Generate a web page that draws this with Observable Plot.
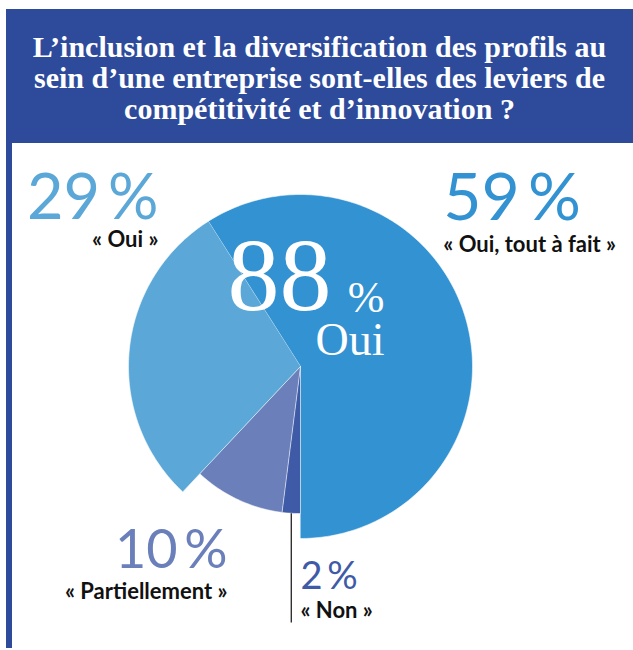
<!DOCTYPE html>
<html>
<head>
<meta charset="utf-8">
<script src="https://cdn.jsdelivr.net/npm/d3@7"></script>
<script src="https://cdn.jsdelivr.net/npm/@observablehq/plot@0.6"></script>
<style>
  body { margin: 0; background: #fff; }
  #wrap { position: relative; width: 633px; height: 650px; overflow: hidden; background: #fff; }
  #title { position: absolute; left: 6px; top: 9px; width: 627px; height: 134px; background: #2e4b9b; color: #fff;
    font-family: "Liberation Serif", serif; font-weight: bold; font-size: 30px; line-height: 31px;
    text-align: center; box-sizing: border-box; padding-top: 22px; margin: 0; }
  #border { position: absolute; left: 6px; top: 143px; width: 6px; height: 505px; background: #2e4b9b; }
  #chart { position: absolute; left: 0; top: 143px; }
</style>
</head>
<body>
<div id="wrap">
  <h1 id="title">L’inclusion et la diversification des profils au<br>sein d’une entreprise sont-elles des leviers de<br>compétitivité et d’innovation&nbsp;?</h1>
  <div id="border"></div>
  <div id="chart"></div>
</div>
<script>
// ---- data ----
const categories = ["Oui, tout à fait", "Non", "Partiellement", "Oui"];
const values = [59, 2, 10, 29];
const percentLabels = ["59\u2009%", "2\u2009%", "10\u2009%", "29\u2009%"];
const answerLabels = ["« Oui, tout à fait »", "« Non »", "« Partiellement »", "« Oui »"];
const totalYesValue = "88";
const totalYesUnit = "%";
const totalYesLabel = "Oui";

// ---- style / layout ----
const colors = ["#3392d2", "#3f5aa6", "#6b80ba", "#5ba8d8"];
const radius = {"Oui, tout à fait": 1, "Oui": 1, "Partiellement": 0.855, "Non": 0.855};
// label anchors in unit-radius coordinates
const layout = {
  "Oui, tout à fait": {x: 0.83, pctY: 0.849, lblY: 0.663, anchor: "start", pctSize: 66},
  "Oui":              {x: -0.826, pctY: 0.855, lblY: 0.697, anchor: "end", pctSize: 63},
  "Partiellement":    {x: -0.424, pctY: -1.174, lblY: -1.349, anchor: "end", pctSize: 54},
  "Non":              {x: 0.0, pctY: -1.291, lblY: -1.465, anchor: "start", pctSize: 38}
};
const leaderEndY = -1.488;

// ---- geometry from values ----
const total = d3.sum(values);
const startAngle = Math.PI - values[0] / total * 2 * Math.PI; // first slice ends at six o'clock
const slices = [];
let a = startAngle;
categories.forEach((key, i) => {
  const a0 = a, a1 = a + values[i] / total * 2 * Math.PI;
  slices.push({key, value: values[i], a0, a1, r: radius[key], pct: percentLabels[i], label: answerLabels[i]});
  a = a1;
});
const slicePts = [];
for (const s of slices) {
  slicePts.push({key: s.key, x: 0, y: 0});
  const n = Math.max(4, Math.ceil((s.a1 - s.a0) / (Math.PI / 180)));
  for (let k = 0; k <= n; k++) {
    const t = s.a0 + (s.a1 - s.a0) * k / n;
    slicePts.push({key: s.key, x: s.r * Math.sin(t), y: s.r * Math.cos(t)});
  }
}
const non = slices.find(s => s.key === "Non");
const nonMid = (non.a0 + non.a1) / 2;
const leader = [{x: non.r * Math.sin(nonMid), y1: non.r * Math.cos(nonMid), y2: leaderEndY}];

const startLabels = slices.filter(s => layout[s.key].anchor === "start");
const endLabels = slices.filter(s => layout[s.key].anchor === "end");
const pctFont = "Lato, 'Open Sans', sans-serif";

const pctMarks = slices.map(s => Plot.text([s], {
  x: d => layout[d.key].x, y: d => layout[d.key].pctY, text: "pct", fill: "key",
  textAnchor: layout[s.key].anchor, lineAnchor: "bottom", fontSize: layout[s.key].pctSize,
  fontFamily: pctFont
}));
const lblMarks = [startLabels, endLabels].map((arr, j) => Plot.text(arr, {
  x: d => layout[d.key].x, y: d => layout[d.key].lblY, text: "label", fill: "#111",
  textAnchor: j === 0 ? "start" : "end", lineAnchor: "bottom", fontSize: 22, fontWeight: "bold",
  fontFamily: pctFont
}));

const chart = Plot.plot({
  width: 633,
  height: 507,
  style: {background: "transparent", overflow: "visible"},
  x: {domain: [-1, 1], range: [128, 472], axis: null},
  y: {domain: [-1, 1], range: [395, 51], axis: null},
  color: {domain: categories, range: colors},
  marks: [
    Plot.line(slicePts, {x: "x", y: "y", z: "key", fill: "key", stroke: "#fff", strokeWidth: 0.7, strokeOpacity: 0.8, curve: "linear"}),
    Plot.link(leader, {x1: "x", x2: "x", y1: "y1", y2: "y2", stroke: "#111", strokeWidth: 1.2}),
    ...pctMarks,
    ...lblMarks,
    Plot.text([totalYesValue], {x: [0.18], y: [0.326], text: d => d, fill: "#fff", textAnchor: "end", lineAnchor: "bottom", fontSize: 104, fontFamily: "'Liberation Serif', serif"}),
    Plot.text([totalYesUnit], {x: [0.488], y: [0.314], text: d => d, fill: "#fff", textAnchor: "end", lineAnchor: "bottom", fontSize: 44, fontFamily: "'Liberation Serif', serif"}),
    Plot.text([totalYesLabel], {x: [0.488], y: [0.064], text: d => d, fill: "#fff", textAnchor: "end", lineAnchor: "bottom", fontSize: 46, fontFamily: "'Liberation Serif', serif"})
  ]
});
document.getElementById("chart").appendChild(chart);
</script>
</body>
</html>
